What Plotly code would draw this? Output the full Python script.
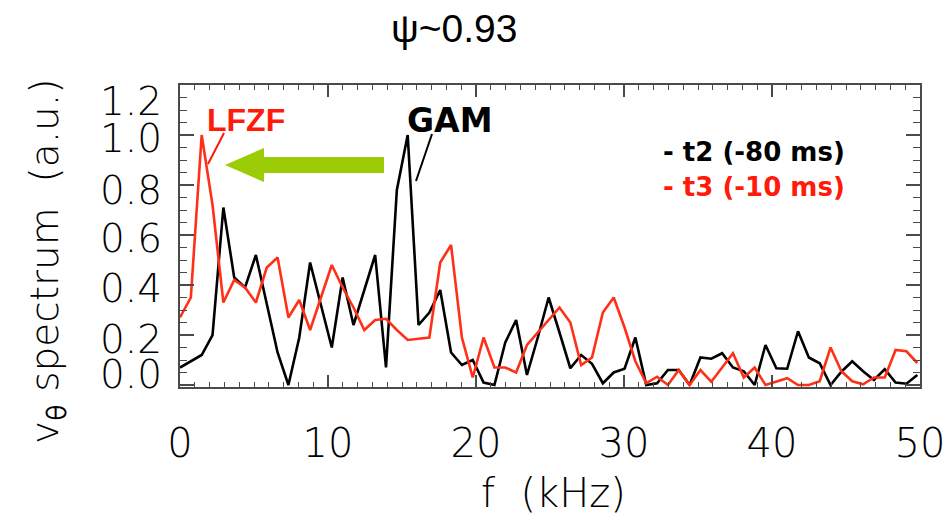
import numpy as np
import plotly.graph_objects as go

# ---- data -------------------------------------------------------------
df_khz = 0.7326  # frequency resolution (kHz)
t2_spectrum = [0.07, 0.095, 0.12, 0.20, 0.71, 0.43, 0.39, 0.52, 0.33, 0.13,
               0.00, 0.19, 0.49, 0.32, 0.15, 0.43, 0.24, 0.38, 0.52, 0.07,
               0.78, 1.00, 0.24, 0.29, 0.38, 0.13, 0.08, 0.10, 0.01, 0.00,
               0.17, 0.26, 0.04, 0.19, 0.35, 0.21, 0.067, 0.12, 0.085, 0.007,
               0.05, 0.065, 0.19, 0.00, 0.007, 0.06, 0.06, 0.00, 0.11, 0.105,
               0.127, 0.07, 0.055, 0.00, 0.16, 0.067, 0.065, 0.215, 0.11, 0.087,
               0.00, 0.053, 0.095, 0.055, 0.02, 0.063, 0.01, 0.005, 0.04]
t3_spectrum = [0.27, 0.35, 1.00, 0.72, 0.33, 0.42, 0.39, 0.33, 0.47, 0.51,
               0.27, 0.34, 0.22, 0.35, 0.48, 0.39, 0.31, 0.22, 0.26, 0.265,
               0.22, 0.18, 0.185, 0.19, 0.49, 0.56, 0.19, 0.03, 0.19, 0.07,
               0.07, 0.05, 0.16, 0.21, 0.26, 0.31, 0.25, 0.08, 0.11, 0.29,
               0.35, 0.23, 0.095, 0.007, 0.033, 0.00, 0.06, 0.00, 0.06, 0.013,
               0.07, 0.127, 0.03, 0.07, 0.00, 0.013, 0.027, 0.00, 0.00, 0.015,
               0.15, 0.055, 0.015, 0.003, 0.03, 0.03, 0.14, 0.135, 0.088]
freq = [k * df_khz for k in range(len(t2_spectrum))]

x_ticks = [0, 10, 20, 30, 40, 50]
y_ticks = [0.0, 0.2, 0.4, 0.6, 0.8, 1.0, 1.2]
y_tick_text = ["0.0", "0.2", "0.4", "0.6", "0.8", "1.0", "1.2"]

# ---- layout helpers ---------------------------------------------------
W, H = 947, 516
L, R, T, B = 180, 27, 85, 129
PH = H - T - B
PW = W - L - R


def py(p):  # pixel y -> paper
    return (H - B - p) / PH


def px(p):  # pixel x -> paper
    return (p - L) / PW


THIN = "'DejaVu Sans ExtraLight', 'DejaVu Sans Light', 'DejaVu Sans', sans-serif"
BOLD = "'DejaVu Sans', sans-serif"
AXC = "#4a4a4a"
RED = "#ff3018"

fig = go.Figure()
fig.add_trace(go.Scatter(x=freq, y=t2_spectrum, mode="lines",
                         line=dict(color="black", width=2.6), name="t2"))
fig.add_trace(go.Scatter(x=freq, y=t3_spectrum, mode="lines",
                         line=dict(color=RED, width=2.6), name="t3"))

ann = []
# y tick labels (as drawn in the reference, slightly crowded at the ends)
y_label_px = [374, 339, 288, 239, 190, 138, 101]
for txt, p in zip(y_tick_text, y_label_px):
    ann.append(dict(text=txt, xref="paper", yref="paper", x=px(164), y=py(p),
                    xanchor="right", yanchor="middle", showarrow=False,
                    font=dict(family=THIN, size=39, color="black")))
# axis titles
ann.append(dict(text="f  (kHz)", xref="paper", yref="paper", x=px(553), y=py(493),
                xanchor="center", yanchor="middle", showarrow=False,
                font=dict(family=THIN, size=40, color="black")))
ann.append(dict(text="v<sub><b>θ</b></sub> spectrum  (a.u.)", xref="paper", yref="paper",
                x=px(47), y=py(262), xanchor="center", yanchor="middle",
                textangle=-90, showarrow=False,
                font=dict(family=THIN, size=39, color="black")))
# title
ann.append(dict(text="ψ~0.93", xref="paper", yref="paper", x=px(454), y=py(29),
                xanchor="center", yanchor="middle", showarrow=False,
                font=dict(family="'Liberation Sans', Arial, sans-serif", size=39, color="black")))
# labels
ann.append(dict(text="<b>LFZF</b>", xref="paper", yref="paper", x=px(246), y=py(120),
                xanchor="center", yanchor="middle", showarrow=False,
                font=dict(family="'Liberation Sans Narrow', 'Liberation Sans', sans-serif",
                          size=32, color="#ff1a0a")))
ann.append(dict(text="<b>GAM</b>", xref="paper", yref="paper", x=px(449), y=py(120),
                xanchor="center", yanchor="middle", showarrow=False,
                font=dict(family=BOLD, size=33, color="black")))
ann.append(dict(text="<b>- t2 (-80 ms)</b>", xref="paper", yref="paper", x=px(661), y=py(152),
                xanchor="left", yanchor="middle", showarrow=False,
                font=dict(family=BOLD, size=26, color="black")))
ann.append(dict(text="<b>- t3 (-10 ms)</b>", xref="paper", yref="paper", x=px(661), y=py(187),
                xanchor="left", yanchor="middle", showarrow=False,
                font=dict(family=BOLD, size=26, color="#ff1a0a")))

shapes = []
# pointer lines
shapes.append(dict(type="line", xref="paper", yref="paper",
                   x0=px(224), y0=py(133), x1=px(208), y1=py(164),
                   line=dict(color="#ff1a0a", width=2)))
shapes.append(dict(type="line", xref="paper", yref="paper",
                   x0=px(432), y0=py(134), x1=px(416), y1=py(181),
                   line=dict(color="black", width=2)))
# green arrow
pts = [(225, 165), (264, 148), (264, 157), (384, 157), (384, 173), (264, 173), (264, 182)]
path = "M " + " L ".join(f"{px(a):.5f},{py(b):.5f}" for a, b in pts) + " Z"
shapes.append(dict(type="path", xref="paper", yref="paper", path=path,
                   fillcolor="#9ccc06", line=dict(width=0)))

fig.update_layout(
    width=W, height=H, margin=dict(l=L, r=R, t=T, b=B, autoexpand=False),
    paper_bgcolor="white", plot_bgcolor="white", showlegend=False,
    annotations=ann, shapes=shapes,
    xaxis=dict(range=[0, 50], tickvals=x_ticks, ticks="inside", ticklen=12,
               tickwidth=1.5, tickcolor=AXC, showline=True, linecolor=AXC,
               linewidth=2, mirror="ticks", showgrid=False, zeroline=False,
               tickfont=dict(family=THIN, size=40, color="black"),
               ticklabelstandoff=20,
               minor=dict(dtick=1, ticks="inside", ticklen=5, tickcolor=AXC,
                          tickwidth=1, showgrid=False)),
    yaxis=dict(range=[-0.008, 1.2], tickvals=y_ticks, ticks="inside", ticklen=14,
               tickwidth=1.5, tickcolor=AXC, showline=True, linecolor=AXC,
               linewidth=2, mirror="ticks", showgrid=False, zeroline=False,
               showticklabels=False,
               minor=dict(dtick=0.05, ticks="inside", ticklen=7, tickcolor=AXC,
                          tickwidth=1, showgrid=False)),
)

fig.write_html("out.html")
